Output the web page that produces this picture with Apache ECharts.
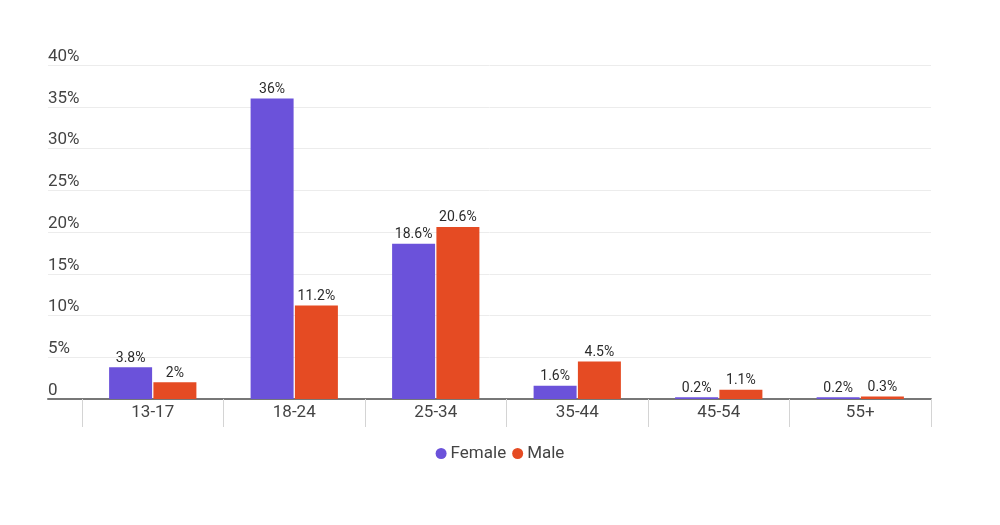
<!DOCTYPE html>
<html>
<head>
<meta charset="utf-8">
<script src="https://cdn.jsdelivr.net/npm/echarts@6/dist/echarts.min.js"></script>
<style>
  html, body { margin: 0; padding: 0; background: #fff; }
  #chart { width: 1000px; height: 525px; }
</style>
</head>
<body>
<div id="chart"></div>
<script>
// age groups and share per gender (%)
const ageGroups = ['13-17', '18-24', '25-34', '35-44', '45-54', '55+'];
const female = [3.8, 36, 18.6, 1.6, 0.2, 0.2];
const male = [2, 11.2, 20.6, 4.5, 1.1, 0.3];

const font = 'Roboto, "Noto Sans", sans-serif';
const chart = echarts.init(document.getElementById('chart'), null, { renderer: 'canvas' });

const barLabel = {
  show: true,
  position: 'top',
  distance: 2,
  fontFamily: font,
  fontSize: 14,
  color: '#2b2b2b',
  formatter: p => p.value + '%'
};

chart.setOption({
  animation: false,
  textStyle: { fontFamily: font },
  legend: {
    data: ['Female', 'Male'],
    bottom: 58,
    left: 'center',
    icon: 'circle',
    itemWidth: 11,
    itemHeight: 11,
    itemGap: 6,
    textStyle: { fontFamily: font, fontSize: 17, color: '#444', padding: [0, 0, 0, -1] }
  },
  grid: [
    // grid for y labels, gridlines and the baseline
    { left: 48, right: 69, top: 65, bottom: 126 },
    // grid for the bars themselves
    { left: 82, right: 69, top: 65, bottom: 126 }
  ],
  xAxis: [
    {
      gridIndex: 0,
      type: 'value',
      min: 0, max: 1,
      axisLine: { show: true, onZero: false, lineStyle: { color: '#777', width: 2 } },
      axisTick: { show: false },
      axisLabel: { show: false },
      splitLine: { show: false }
    },
    {
      gridIndex: 1,
      type: 'category',
      data: ageGroups,
      axisLine: { show: false },
      axisTick: { show: true, length: 28, lineStyle: { color: '#d4d4d4', width: 1 } },
      axisLabel: { fontFamily: font, fontSize: 17, color: '#444', margin: 5 }
    }
  ],
  yAxis: [
    {
      gridIndex: 0,
      type: 'value',
      min: 0, max: 40, interval: 5,
      axisLine: { show: false },
      axisTick: { show: false },
      splitLine: { lineStyle: { color: '#ececec', width: 1 } },
      axisLabel: {
        inside: true,
        margin: 0,
        align: 'left',
        verticalAlign: 'bottom',
        padding: [0, 0, 0, 0],
        fontFamily: font,
        fontSize: 17,
        color: '#444',
        formatter: v => v === 0 ? '0' : v + '%'
      }
    },
    {
      gridIndex: 1,
      type: 'value',
      min: 0, max: 40, interval: 5,
      show: false,
      splitLine: { show: false }
    }
  ],
  series: [
    {
      name: 'Female',
      type: 'bar',
      xAxisIndex: 1,
      yAxisIndex: 1,
      data: female,
      barWidth: 43,
      barGap: '3%',
      itemStyle: { color: '#6b52da' },
      label: barLabel
    },
    {
      name: 'Male',
      type: 'bar',
      xAxisIndex: 1,
      yAxisIndex: 1,
      data: male,
      barWidth: 43,
      itemStyle: { color: '#e54b23' },
      label: barLabel
    }
  ]
});
</script>
</body>
</html>
